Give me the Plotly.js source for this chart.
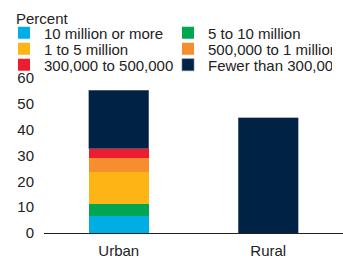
<!DOCTYPE html>
<html><head><meta charset="utf-8">
<script src="https://cdn.plot.ly/plotly-3.0.1.min.js"></script>
<style>html,body{margin:0;padding:0;background:#fff}#c{width:343px;height:258px}</style>
</head><body><div id="c"></div>
<script>
const categories = ["Urban", "Rural"];
const seriesNames = ["10 million or more", "5 to 10 million", "1 to 5 million", "500,000 to 1 million", "300,000 to 500,000", "Fewer than 300,000"];
const s10mPlus = [6.7, 0];
const s5to10m = [4.7, 0];
const s1to5m = [12.4, 0];
const s500kto1m = [5.4, 0];
const s300to500k = [3.5, 0];
const sFewer300k = [22.6, 44.7];
const colors = ["#00aee4", "#00a651", "#fdb515", "#f68d2e", "#ed1c2e", "#002244"];
const yTicks = [0, 10, 20, 30, 40, 50, 60];

const seriesValues = [s10mPlus, s5to10m, s1to5m, s500kto1m, s300to500k, sFewer300k];
const legendIds = ["legend", "legend", "legend2", "legend2", "legend3", "legend3"];
const traces = seriesValues.map((vals, i) => ({
  type: "bar", x: categories, y: vals, name: seriesNames[i], legend: legendIds[i],
  marker: {color: colors[i], line: {color: i === 5 ? "#6f8296" : colors[i], width: i === 5 ? 0.6 : 0}},
  width: 0.4, hoverinfo: "none"
}));

const FS = 15;
const legendBase = (y) => ({orientation: "h", x: -0.1338, xanchor: "left", y: y, yanchor: "middle",
  entrywidth: 119, entrywidthmode: "pixels", traceorder: "normal",
  font: {size: FS, color: "#222"}, bgcolor: "rgba(0,0,0,0)", itemwidth: 30, tracegroupgap: 0});

const layout = {
  width: 343, height: 258,
  margin: {l: 44, r: 0, t: 78, b: 25},
  barmode: "stack",
  font: {family: "Liberation Sans, Arial, sans-serif", size: FS, color: "#222"},
  paper_bgcolor: "#fff", plot_bgcolor: "#fff",
  showlegend: true,
  legend: legendBase(1.2903),
  legend2: legendBase(1.1871),
  legend3: legendBase(1.0839),
  xaxis: {showline: true, linecolor: "#222", linewidth: 1, ticks: "", showgrid: false, zeroline: false,
    range: [-0.5, 1.5], ticklabelstandoff: 4, fixedrange: true, automargin: false},
  yaxis: {range: [0, 60], tickvals: yTicks, showgrid: false, zeroline: false, showline: false, ticks: "",
    ticklabelstandoff: 9, fixedrange: true, automargin: false},
  annotations: [{text: "Percent", xref: "paper", yref: "paper", x: -0.1007, y: 1.381, xanchor: "left", yanchor: "middle",
    showarrow: false, font: {size: FS, color: "#222"}}]
};
Plotly.newPlot("c", traces, layout, {staticPlot: true, displayModeBar: false});
</script></body></html>
